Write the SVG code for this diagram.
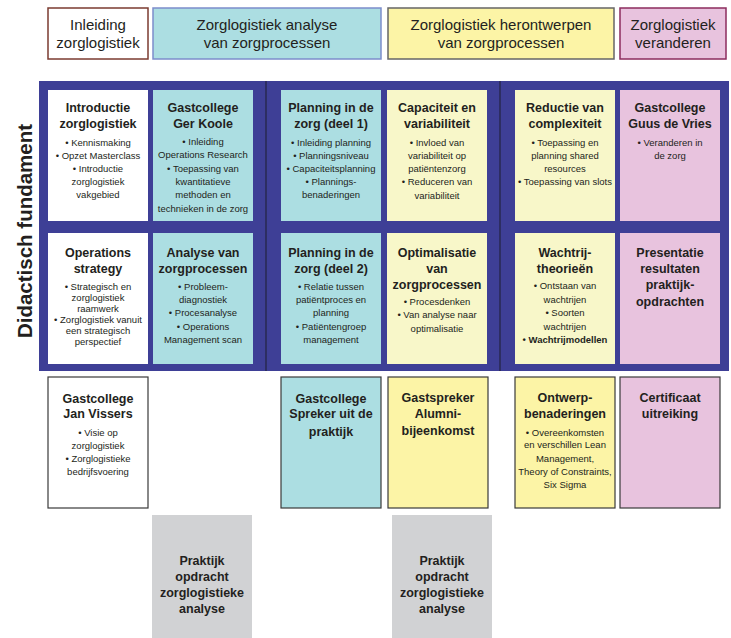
<svg xmlns="http://www.w3.org/2000/svg" width="731" height="638" viewBox="0 0 731 638">
<style>
text{font-family:"Liberation Sans",Arial,sans-serif;fill:#231f20;text-anchor:middle}
.h{font-size:15px}
.t{font-size:12.5px;font-weight:bold}
.b{font-size:9.5px}
.bb{font-size:9.5px;font-weight:bold}
.w{fill:#ffffff}
.tl{fill:#acdee2}
.yl{fill:#f8f7c9}
.pk{fill:#e8c3de}
.yh{fill:#fcf4a6}
.gr{fill:#d1d2d4}
.bd{stroke:#3a3a3a;stroke-width:1.2}
</style>
<rect width="731" height="638" fill="#ffffff"/>
<g id="headers">
<g id="h1"><rect x="48" y="8" width="100" height="51" fill="#ffffff" stroke="#7b3b30" stroke-width="1.5"/>
<text class="h" x="98" y="30">Inleiding</text><text class="h" x="98" y="48">zorglogistiek</text></g>
<g id="h2"><rect x="153" y="8" width="228" height="51" class="tl" stroke="#7c8dcb" stroke-width="1.5"/>
<text class="h" x="267" y="30">Zorglogistiek analyse</text><text class="h" x="267" y="48">van zorgprocessen</text></g>
<g id="h3"><rect x="388" y="8" width="226" height="51" class="yh" stroke="#666666" stroke-width="1.5"/>
<text class="h" x="501" y="30">Zorglogistiek herontwerpen</text><text class="h" x="501" y="48">van zorgprocessen</text></g>
<g id="h4"><rect x="620" y="8" width="106" height="51" class="pk" stroke="#8c2d5e" stroke-width="1.5"/>
<text class="h" x="673" y="30">Zorglogistiek</text><text class="h" x="673" y="48">veranderen</text></g>
</g>
<text x="0" y="0" transform="translate(32 231) rotate(-90)" style="font-size:20.5px;font-weight:bold">Didactisch fundament</text>
<g id="panel">
<rect x="39" y="81" width="690" height="290" fill="#3e3f96"/>
</g>
<g id="connectors">
<line x1="266" y1="81" x2="266" y2="371" stroke="#2a2a55" stroke-width="1.6"/>
<line x1="500" y1="81" x2="500" y2="371" stroke="#2a2a55" stroke-width="1.6"/>
</g>
<g id="r1c1"><rect x="48" y="90" width="100" height="131" class="w"/>
<text class="t" x="98" y="111.5">Introductie</text><text class="t" x="98" y="127.5">zorglogistiek</text>
<text class="b" x="98" y="145.5">• Kennismaking</text><text class="b" x="98" y="158.5">• Opzet Masterclass</text><text class="b" x="98" y="171.5">• Introductie</text><text class="b" x="98" y="185">zorglogistiek</text><text class="b" x="98" y="198">vakgebied</text></g>
<g id="r1c2"><rect x="153" y="90" width="100" height="131" class="tl"/>
<text class="t" x="203" y="111.5">Gastcollege</text><text class="t" x="203" y="127.5">Ger Koole</text>
<text class="b" x="203" y="144.5">• Inleiding</text><text class="b" x="203" y="158">Operations Research</text><text class="b" x="203" y="171.5">• Toepassing van</text><text class="b" x="203" y="185">kwantitatieve</text><text class="b" x="203" y="198">methoden en</text><text class="b" x="203" y="211.5">technieken in de zorg</text></g>
<g id="r1c3"><rect x="281" y="90" width="100" height="131" class="tl"/>
<text class="t" x="331" y="111.5">Planning in de</text><text class="t" x="331" y="127.5">zorg (deel 1)</text>
<text class="b" x="331" y="145.5">• Inleiding planning</text><text class="b" x="331" y="158.5">• Planningsniveau</text><text class="b" x="331" y="171.5">• Capaciteitsplanning</text><text class="b" x="331" y="185">• Plannings-</text><text class="b" x="331" y="198">benaderingen</text></g>
<g id="r1c4"><rect x="387" y="90" width="100" height="131" class="yl"/>
<text class="t" x="437" y="111.5">Capaciteit en</text><text class="t" x="437" y="127.5">variabiliteit</text>
<text class="b" x="437" y="145.5">• Invloed van</text><text class="b" x="437" y="158.5">variabiliteit op</text><text class="b" x="437" y="171.5">patiëntenzorg</text><text class="b" x="437" y="185">• Reduceren van</text><text class="b" x="437" y="199">variabiliteit</text></g>
<g id="r1c5"><rect x="515" y="90" width="100" height="131" class="yl"/>
<text class="t" x="565" y="111.5">Reductie van</text><text class="t" x="565" y="127.5">complexiteit</text>
<text class="b" x="565" y="145.5">• Toepassing en</text><text class="b" x="565" y="158.5">planning shared</text><text class="b" x="565" y="171.5">resources</text><text class="b" x="565" y="185">• Toepassing van slots</text></g>
<g id="r1c6"><rect x="620" y="90" width="100" height="131" class="pk"/>
<text class="t" x="670" y="111.5">Gastcollege</text><text class="t" x="670" y="127.5">Guus de Vries</text>
<text class="b" x="670" y="145.5">• Veranderen in</text><text class="b" x="670" y="158.5">de zorg</text></g>
<g id="r2c1"><rect x="48" y="233" width="100" height="131" class="w"/>
<text class="t" x="98" y="256.5">Operations</text><text class="t" x="98" y="272.5">strategy</text>
<text class="b" x="98" y="289.5">• Strategisch en</text><text class="b" x="98" y="300.5">zorglogistiek</text><text class="b" x="98" y="311.5">raamwerk</text><text class="b" x="98" y="322.5">• Zorglogistiek vanuit</text><text class="b" x="98" y="333.5">een strategisch</text><text class="b" x="98" y="345">perspectief</text></g>
<g id="r2c2"><rect x="153" y="233" width="100" height="131" class="tl"/>
<text class="t" x="203" y="256.5">Analyse van</text><text class="t" x="203" y="272.5">zorgprocessen</text>
<text class="b" x="203" y="289.5">• Probleem-</text><text class="b" x="203" y="302.5">diagnostiek</text><text class="b" x="203" y="316">• Procesanalyse</text><text class="b" x="203" y="329.5">• Operations</text><text class="b" x="203" y="342.5">Management scan</text></g>
<g id="r2c3"><rect x="281" y="233" width="100" height="131" class="tl"/>
<text class="t" x="331" y="256.5">Planning in de</text><text class="t" x="331" y="272.5">zorg (deel 2)</text>
<text class="b" x="331" y="289.5">• Relatie tussen</text><text class="b" x="331" y="302.5">patiëntproces en</text><text class="b" x="331" y="316">planning</text><text class="b" x="331" y="329.5">• Patiëntengroep</text><text class="b" x="331" y="342.5">management</text></g>
<g id="r2c4"><rect x="387" y="233" width="100" height="131" class="yl"/>
<text class="t" x="437" y="256.5">Optimalisatie</text><text class="t" x="437" y="272.5">van</text><text class="t" x="437" y="288.5">zorgprocessen</text>
<text class="b" x="437" y="304.5">• Procesdenken</text><text class="b" x="437" y="317.5">• Van analyse naar</text><text class="b" x="437" y="331.5">optimalisatie</text></g>
<g id="r2c5"><rect x="515" y="233" width="100" height="131" class="yl"/>
<text class="t" x="565" y="256.5">Wachtrij-</text><text class="t" x="565" y="272.5">theorieën</text>
<text class="b" x="565" y="288.5">• Ontstaan van</text><text class="b" x="565" y="302.5">wachtrijen</text><text class="b" x="565" y="315.5">• Soorten</text><text class="b" x="565" y="329.5">wachtrijen</text><text class="bb" x="565" y="342.5">• Wachtrijmodellen</text></g>
<g id="r2c6"><rect x="620" y="233" width="100" height="131" class="pk"/>
<text class="t" x="670" y="256.5">Presentatie</text><text class="t" x="670" y="272.5">resultaten</text><text class="t" x="670" y="289">praktijk-</text><text class="t" x="670" y="306">opdrachten</text></g>
<g id="r3c1"><rect x="48" y="377" width="100" height="131" class="w bd"/>
<text class="t" x="98" y="402.5">Gastcollege</text><text class="t" x="98" y="417.5">Jan Vissers</text>
<text class="b" x="98" y="435.5">• Visie op</text><text class="b" x="98" y="448.5">zorglogistiek</text><text class="b" x="98" y="461.5">• Zorglogistieke</text><text class="b" x="98" y="474.5">bedrijfsvoering</text></g>
<g id="r3c3"><rect x="281" y="377" width="100" height="131" class="tl bd"/>
<text class="t" x="331" y="402.5">Gastcollege</text><text class="t" x="331" y="417.5">Spreker uit de</text><text class="t" x="331" y="436">praktijk</text></g>
<g id="r3c4"><rect x="388" y="377" width="100" height="131" class="yh bd"/>
<text class="t" x="438" y="401.5">Gastspreker</text><text class="t" x="438" y="417.5">Alumni-</text><text class="t" x="438" y="435">bijeenkomst</text></g>
<g id="r3c5"><rect x="515" y="377" width="100" height="131" class="yh bd"/>
<text class="t" x="565" y="401.5">Ontwerp-</text><text class="t" x="565" y="417.5">benaderingen</text>
<text class="b" x="565" y="435.5">• Overeenkomsten</text><text class="b" x="565" y="447.5">en verschillen Lean</text><text class="b" x="565" y="461.5">Management,</text><text class="b" x="565" y="474.5">Theory of Constraints,</text><text class="b" x="565" y="487.5">Six Sigma</text></g>
<g id="r3c6"><rect x="620" y="377" width="100" height="131" class="pk bd"/>
<text class="t" x="670" y="401.5">Certificaat</text><text class="t" x="670" y="417.5">uitreiking</text></g>
<g id="g1"><rect x="152" y="515" width="100" height="123" class="gr"/>
<text class="t" x="202" y="564.5">Praktijk</text><text class="t" x="202" y="580.5">opdracht</text><text class="t" x="202" y="597">zorglogistieke</text><text class="t" x="202" y="612.5">analyse</text></g>
<g id="g2"><rect x="392" y="515" width="100" height="123" class="gr"/>
<text class="t" x="442" y="564.5">Praktijk</text><text class="t" x="442" y="580.5">opdracht</text><text class="t" x="442" y="597">zorglogistieke</text><text class="t" x="442" y="612.5">analyse</text></g>
</svg>
